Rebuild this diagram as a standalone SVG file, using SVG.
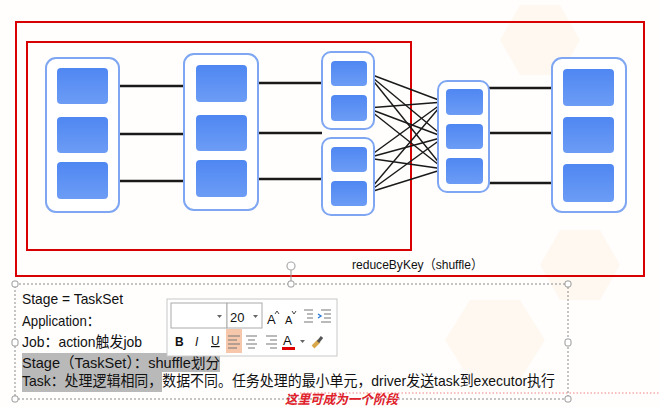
<svg xmlns="http://www.w3.org/2000/svg" width="660" height="407" viewBox="0 0 660 407">
<defs>
<linearGradient id="bx" x1="0" y1="0" x2="0" y2="1">
<stop offset="0" stop-color="#4f87f2"/>
<stop offset="1" stop-color="#6c9cf5"/>
</linearGradient>
<marker id="ah" viewBox="0 0 10 10" refX="9" refY="5" markerWidth="5" markerHeight="5" orient="auto" markerUnits="userSpaceOnUse">
<path d="M0,0 L10,5 L0,10 z" fill="#111"/>
</marker>
<style>
.cont{fill:#fff;stroke:#7ea6f2;stroke-width:2}
.box{fill:url(#bx)}
.ln{stroke:#1a1a1a;stroke-width:2.5}
.x{stroke:#1a1a1a;stroke-width:1.4;marker-end:url(#ah)}
.red{fill:none;stroke:#d80000;stroke-width:2}
.t{font-family:"Liberation Sans","Noto Sans CJK SC",sans-serif;fill:#111}
.h{fill:#fff;stroke:#999;stroke-width:1}
.ic{stroke:#777;stroke-width:1.2}
</style>
</defs>
<rect width="660" height="407" fill="#fffefd"/>
<g fill="#fef8f1">
<polygon points="520,5 560,5 580,40 560,75 520,75 500,40"/>
<polygon points="560,230 600,230 620,265 600,300 560,300 540,265"/>
<polygon points="470,300 520,300 545,340 520,380 470,380 445,340"/>
</g>
<rect class="red" x="16" y="22" width="628" height="254"/>
<rect class="red" x="27" y="42" width="384" height="208"/>
<g id="connectors">
<line class="ln" x1="108" y1="86" x2="184" y2="86"/>
<line class="ln" x1="108" y1="134" x2="184" y2="134"/>
<line class="ln" x1="108" y1="181" x2="184" y2="181"/>
<line class="ln" x1="247" y1="83" x2="322" y2="83"/>
<line class="ln" x1="247" y1="133" x2="322" y2="133"/>
<line class="ln" x1="247" y1="179" x2="322" y2="179"/>
<line class="ln" x1="489" y1="88" x2="563" y2="88"/>
<line class="ln" x1="489" y1="133" x2="563" y2="133"/>
<line class="ln" x1="489" y1="183" x2="563" y2="183"/>
<line class="x" x1="367" y1="73" x2="444" y2="102"/>
<line class="x" x1="367" y1="73" x2="444" y2="137"/>
<line class="x" x1="367" y1="73" x2="444" y2="169"/>
<line class="x" x1="367" y1="108" x2="444" y2="102"/>
<line class="x" x1="367" y1="108" x2="444" y2="137"/>
<line class="x" x1="367" y1="108" x2="444" y2="169"/>
<line class="x" x1="367" y1="158" x2="444" y2="102"/>
<line class="x" x1="367" y1="158" x2="444" y2="137"/>
<line class="x" x1="367" y1="158" x2="444" y2="169"/>
<line class="x" x1="367" y1="193" x2="444" y2="102"/>
<line class="x" x1="367" y1="193" x2="444" y2="137"/>
<line class="x" x1="367" y1="193" x2="444" y2="169"/>
</g>
<g id="stage1">
<rect class="cont" x="46" y="58" width="73" height="154" rx="10"/>
<rect class="box" x="57" y="68" width="51" height="36" rx="4"/>
<rect class="box" x="57" y="117" width="51" height="36" rx="4"/>
<rect class="box" x="57" y="162" width="51" height="37" rx="4"/>
</g>
<g id="stage2">
<rect class="cont" x="184" y="54" width="74" height="156" rx="10"/>
<rect class="box" x="196" y="65" width="51" height="37" rx="4"/>
<rect class="box" x="196" y="115" width="51" height="36" rx="4"/>
<rect class="box" x="196" y="160" width="51" height="37" rx="4"/>
</g>
<g id="stage3a">
<rect class="cont" x="322" y="52" width="52" height="77" rx="9"/>
<rect class="box" x="331" y="61" width="36" height="25" rx="4"/>
<rect class="box" x="331" y="95" width="36" height="26" rx="4"/>
</g>
<g id="stage3b">
<rect class="cont" x="322" y="138" width="52" height="77" rx="9"/>
<rect class="box" x="331" y="147" width="36" height="25" rx="4"/>
<rect class="box" x="331" y="181" width="36" height="25" rx="4"/>
</g>
<g id="stage4">
<rect class="cont" x="438" y="81" width="51" height="111" rx="9"/>
<rect class="box" x="446" y="89" width="37" height="26" rx="4"/>
<rect class="box" x="446" y="124" width="37" height="25" rx="4"/>
<rect class="box" x="446" y="158" width="37" height="26" rx="4"/>
</g>
<g id="stage5">
<rect class="cont" x="552" y="58" width="74" height="154" rx="10"/>
<rect class="box" x="563" y="69" width="51" height="37" rx="4"/>
<rect class="box" x="563" y="117" width="51" height="36" rx="4"/>
<rect class="box" x="563" y="164" width="51" height="38" rx="4"/>
</g>
<text class="t" x="352" y="269" font-size="13" textLength="131" lengthAdjust="spacingAndGlyphs">reduceByKey（shuffle）</text>
<g id="textbox">
<line x1="300" y1="393" x2="660" y2="393" stroke="#f08080" stroke-width="1" stroke-dasharray="1.5,2"/>
<rect x="15" y="284" width="553" height="115" fill="none" stroke="#8a8a8a" stroke-width="1" stroke-dasharray="2,2"/>
<line x1="291" y1="270" x2="291" y2="284" stroke="#999"/>
<circle cx="291" cy="266" r="4" fill="#fff" stroke="#aaa" stroke-width="1.2"/>
<rect class="h" x="12" y="281" width="6" height="6" rx="2"/>
<rect class="h" x="288" y="281" width="6" height="6" rx="2"/>
<rect class="h" x="565" y="281" width="6" height="6" rx="2"/>
<rect class="h" x="12" y="339" width="6" height="7" rx="2"/>
<rect class="h" x="565" y="339" width="6" height="7" rx="2"/>
<rect class="h" x="12" y="396" width="6" height="6" rx="2"/>
<rect class="h" x="288" y="396" width="6" height="6" rx="2"/>
<rect class="h" x="565" y="396" width="6" height="6" rx="2"/>
<rect x="22" y="353" width="198" height="19" fill="#b9b9b9"/>
<rect x="22" y="372" width="140" height="20" fill="#b9b9b9"/>
<text class="t" x="22" y="304" font-size="15" textLength="101" lengthAdjust="spacingAndGlyphs">Stage = TaskSet</text>
<text class="t" x="22" y="326" font-size="15" textLength="78" lengthAdjust="spacingAndGlyphs">Application：</text>
<text class="t" x="22" y="347" font-size="15" textLength="120" lengthAdjust="spacingAndGlyphs">Job：action触发job</text>
<text class="t" x="22" y="368" font-size="15" textLength="198" lengthAdjust="spacingAndGlyphs" fill="#333">Stage（TaskSet）：shuffle划分</text>
<text class="t" x="22" y="386" font-size="15" textLength="533" lengthAdjust="spacingAndGlyphs">Task：处理逻辑相同，数据不同。任务处理的最小单元，driver发送task到executor执行</text>
<text x="285" y="404" font-size="13" font-style="italic" font-weight="bold" fill="#e0202a" font-family="'Noto Sans CJK SC',sans-serif" textLength="113" lengthAdjust="spacingAndGlyphs">这里可成为一个阶段</text>
</g>
<g id="toolbar">
<rect x="167" y="299" width="170" height="57" fill="#fff" stroke="#c8c8c8"/>
<rect x="171" y="303" width="56" height="25" fill="#fff" stroke="#aaa"/>
<rect x="227" y="303" width="35" height="25" fill="#fff" stroke="#aaa"/>
<path d="M217,315 h5 l-2.5,3 z M253,315 h5 l-2.5,3 z M300,340 h5 l-2.5,3 z" fill="#666"/>
<text class="t" x="230" y="322" font-size="13" fill="#222">20</text>
<text class="t" x="267" y="324" font-size="13" fill="#444">A</text>
<path d="M275,314 l2,-3 l2,3" fill="none" stroke="#444"/>
<text class="t" x="285" y="324" font-size="11" fill="#444">A</text>
<path d="M292,311 l2,3 l2,-3" fill="none" stroke="#444"/>
<path d="M304,310 h9 M307,314 h6 M307,318 h6 M304,322 h9" class="ic" stroke="#aaa"/>
<path d="M321,310 h10 M324,314 h7 M324,318 h7 M321,322 h10" class="ic"/>
<path d="M318,314 l3,2 l-3,2" fill="none" stroke="#2a7ad8" stroke-width="1.4"/>
<rect x="226" y="329" width="16" height="24" fill="#f6c7aa"/>
<text class="t" x="175" y="346" font-size="12" font-weight="bold" fill="#444">B</text>
<text class="t" x="195" y="346" font-size="12" font-style="italic" fill="#444">I</text>
<text class="t" x="211" y="345" font-size="12" fill="#444" text-decoration="underline">U</text>
<path d="M228,336 h12 M228,340 h9 M228,344 h12 M228,348 h9" class="ic"/>
<path d="M246,336 h11 M248,340 h7 M246,344 h11 M248,348 h7" class="ic"/>
<path d="M266,336 h11 M270,340 h7 M266,344 h11 M270,348 h7" class="ic"/>
<text class="t" x="283" y="345" font-size="13" fill="#444">A</text>
<rect x="282" y="347" width="13" height="3" fill="#e00000"/>
<path d="M313,347 l6,-6" stroke="#d9a84a" stroke-width="4"/>
<path d="M318,342 l4,-5" stroke="#555" stroke-width="3"/>
</g>
</svg>
